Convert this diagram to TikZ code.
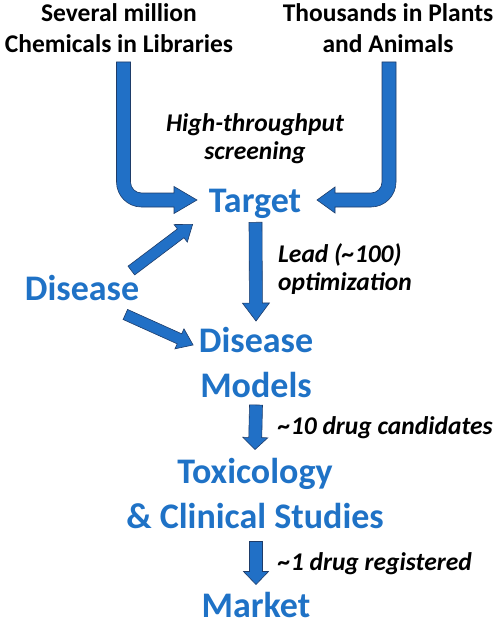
\documentclass[tikz,border=0pt]{standalone}
\usepackage{fontspec}
\setmainfont{Carlito}
\usetikzlibrary{calc}

\definecolor{stageblue}{RGB}{31,114,198}
\definecolor{arrowfill}{RGB}{33,112,198}
\definecolor{arrowedge}{RGB}{30,60,105}

\tikzset{
  head len/.store in=\headlen, head len=18,
  head wid/.store in=\headwid, head wid=13.5,
  shaft wid/.store in=\shaftwid, shaft wid=6.5,
  arrowbody/.style={draw=arrowedge, fill=arrowfill, line width=0.6pt, line join=miter},
  blockarrow/.style={arrowbody,
    to path={let \p1=(\tikztostart), \p2=(\tikztotarget),
      \n1={atan2(\y2-\y1,\x2-\x1)}, \n2={veclen(\x2-\x1,\y2-\y1)} in
      {[shift={(\p1)}, rotate=\n1]
        (0,-\shaftwid) -- ({\n2-\headlen},-\shaftwid) -- ({\n2-\headlen},-\headwid)
        -- (\n2,0) -- ({\n2-\headlen},\headwid) -- ({\n2-\headlen},\shaftwid)
        -- (0,\shaftwid) -- cycle}}},
  stage/.style={text=stageblue, font=\fontsize{36}{45}\selectfont\bfseries, align=center, inner sep=0pt},
  source/.style={font=\fontsize{25.5}{31}\selectfont\bfseries, align=center, inner sep=0pt},
  note/.style={font=\fontsize{25.5}{28}\selectfont\bfseries\itshape, inner sep=0pt}
}

\begin{document}
\begin{tikzpicture}[x=1pt, y=-1pt]
    \useasboundingbox (0,0) rectangle (498,623);

    % sources
    \node[source] (chem) at (119,28) {Several million\\Chemicals in Libraries};
    \node[source] (plants) at (388,28) {Thousands in Plants\\and Animals};
    \node[note, align=center] (hts) at (255,139) {High-throughput\\screening};

    % stages
    \node[stage, anchor=base] (target) at (255,212) {Target};
    \node[stage, anchor=base] (disease) at (82,300) {Disease};
    \node[stage] (models) at (256,362.5) {Disease\\Models};
    \node[stage] (tox) at (255,493) {Toxicology\\\& Clinical Studies};
    \node[stage, anchor=base] (market) at (256,617) {Market};

    % notes
    \node[note, align=left, anchor=west] (lead) at (278,269) {Lead (\textasciitilde100)\\optimization};
    \node[note, anchor=base west] (cand) at (278,434) {\textasciitilde10 drug candidates};
    \node[note, anchor=base west] (reg) at (278,570) {\textasciitilde1 drug registered};

    % curved arrows into the target
    \draw[arrowbody] (116.5,62) -- (116.5,182) arc[start angle=180, end angle=90, radius=25]
        -- (174,207) -- (174,213.5) -- (197,200) -- (174,186.5) -- (174,193)
        -- (141.5,193) arc[start angle=90, end angle=180, radius=11] -- (130.5,62) -- cycle;
    \draw[arrowbody] (396,62) -- (396,182) arc[start angle=0, end angle=90, radius=25]
        -- (335,207) -- (335,213) -- (317,200) -- (335,187) -- (335,193)
        -- (371,193) arc[start angle=90, end angle=0, radius=11] -- (382,62) -- cycle;

    % straight arrows
    \draw[blockarrow, shaft wid=5.5, head wid=11, head len=15]
        ($(disease.north east)+(-8,-4)$) to ($(target.south west)+(-16,6)$);
    \draw[blockarrow, shaft wid=5.5, head wid=11, head len=15]
        ($(disease.south east)+(-14,14)$) to ($(models.west)+(-5.5,-17.5)$);
    \draw[blockarrow, head len=18] ($(target.south)+(0.5,4)$) to ($(models.north)+(0,-6)$);
    \draw[blockarrow, head wid=12.5, head len=12] ($(models.south)+(0,7)$) to ($(tox.north)+(0,-8)$);
    \draw[blockarrow, head wid=12.5, head len=13] ($(tox.south)+(1,13)$) to ($(market.north)+(0,-7)$);
\end{tikzpicture}
\end{document}
